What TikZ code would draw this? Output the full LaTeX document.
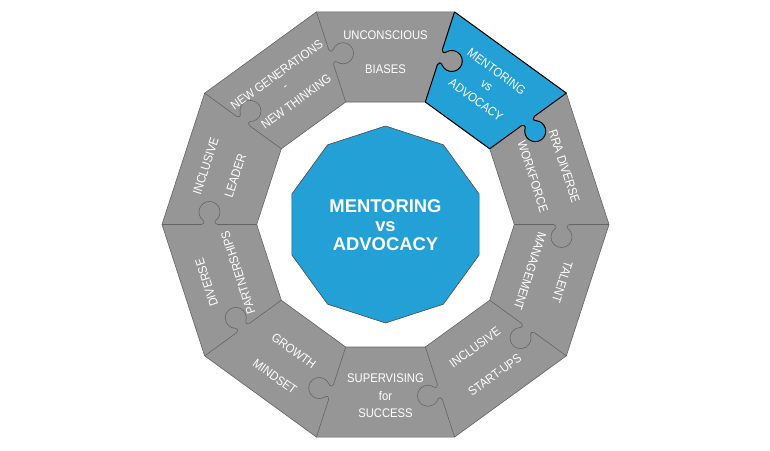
\documentclass[tikz,border=0pt]{standalone}
\usepackage{fontspec}
\setmainfont{Liberation Sans}
\newfontfamily\tagfont[FakeStretch=0.9]{Liberation Sans}
\definecolor{ringgray}{RGB}{150,150,150}
\definecolor{seamgray}{RGB}{100,100,100}
\definecolor{mentorblue}{RGB}{35,160,213}

% puzzle tab on a cut along the x axis, bulging to -y (clockwise)
\newcommand\tabpath{.. controls (170.5,0) and (171.55,-2.53) .. (169.25,-4.46)
  .. controls (165.87,-7.30) and (164.62,-11.94) .. (166.13,-16.09)
  .. controls (167.64,-20.24) and (171.59,-23) .. (176,-23)
  .. controls (180.41,-23) and (184.36,-20.24) .. (185.87,-16.09)
  .. controls (187.38,-11.94) and (186.13,-7.30) .. (182.75,-4.46)
  .. controls (180.45,-2.53) and (181.5,0) .. (184,0)}

\begin{document}
\begin{tikzpicture}[x=1pt, y=1pt,
    ring/.style={fill=ringgray, draw=seamgray, line width=0.6pt},
    seam/.style={draw=seamgray, line width=0.6pt},
    edge/.style={draw=black, line width=1pt, line join=round},
    hub/.style={fill=mentorblue, draw=black!70, line width=0.6pt},
    tag/.style={text=white, font=\tagfont\fontsize{12.5}{14}\selectfont, inner sep=0pt},
    hubtext/.style={text=white, font=\bfseries\fontsize{18.4}{18.7}\selectfont, align=center}]
  \useasboundingbox (-385.5,-225.5) rectangle (384.5,224.5);
  \fill[white] (-385.5,-225.5) rectangle (384.5,224.5);

  % ring of ten pieces
  \path[ring, even odd rule] (0:223.5) \foreach \a in {36,72,...,324} {-- (\a:223.5)} -- cycle
    (0:128.8) \foreach \a in {36,72,...,324} {-- (\a:128.8)} -- cycle;
  \foreach \a in {0,36,...,324}
    \draw[seam, rotate=\a] (128.8,0) -- (168,0) \tabpath -- (223.5,0);

  % highlighted piece
  \begin{scope}[rotate=36]
    \fill[mentorblue] (128.8,0) -- (168,0) \tabpath -- (223.5,0) -- (36:223.5) -- (36:128.8) -- cycle;
  \end{scope}
  \begin{scope}[rotate=72]
    \fill[ringgray] (168,0) \tabpath -- cycle;
    \draw[edge] (128.8,0) -- (168,0) \tabpath -- (223.5,0);
  \end{scope}
  \begin{scope}[rotate=36]
    \draw[edge] (36:128.8) -- (128.8,0) -- (168,0) \tabpath -- (223.5,0) -- (36:223.5);
  \end{scope}

  % centre
  \path[hub] (18:98.5) \foreach \a in {54,90,...,342} {-- (\a:98.5)} -- cycle;
  \node[hubtext] (hubtext) at (0,-0.5) {MENTORING\\vs\\ADVOCACY};

  % piece labels
  \foreach \a/\r/\rot/\txt [count=\i] in {
      90/189/0/UNCONSCIOUS, 90/155/0/BIASES,
      54/189/-36/MENTORING, 54/171.5/-36/vs, 54/154/-36/ADVOCACY,
      18/188/-72/RRA DIVERSE, 18/155/-72/WORKFORCE,
      -18/186/-108/TALENT, -18/152/-108/MANAGEMENT,
      -54/152/36/INCLUSIVE, -54/186/36/START-UPS,
      -90/154/0/SUPERVISING, -90/171.5/0/for, -90/189/0/SUCCESS,
      234/156/-36/GROWTH, 234/188/-36/MINDSET,
      198/188/108/DIVERSE, 198/155/108/PARTNERSHIPS,
      162/189/72/INCLUSIVE, 162/158/72/LEADER,
      126/185/36/NEW GENERATIONS, 126/169/36/-, 126/152/36/NEW THINKING}
    \node[tag, rotate=\rot] (tag\i) at (\a:\r) {\txt};
\end{tikzpicture}
\end{document}
